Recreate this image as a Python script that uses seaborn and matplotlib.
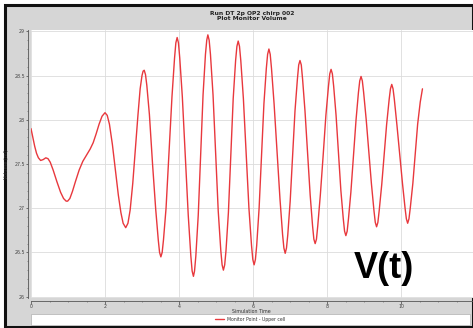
import matplotlib
matplotlib.use("Agg")
import matplotlib.pyplot as plt
import matplotlib.patches as mpatches
from matplotlib.ticker import MultipleLocator
import seaborn as sns
import pandas as pd

# ---- data ----
time = [0.00, 0.05, 0.10, 0.15, 0.20, 0.26, 0.33, 0.40, 0.46, 0.52, 0.60, 0.70,
        0.80, 0.88, 0.95, 0.99, 1.05, 1.12, 1.20, 1.30, 1.40, 1.50, 1.60, 1.68,
        1.76, 1.84, 1.92, 2.00, 2.06, 2.12, 2.20, 2.28, 2.36, 2.43, 2.49, 2.56,
        2.62, 2.68, 2.75, 2.82, 2.89, 2.95, 3.00, 3.03, 3.06,
        3.095, 3.13, 3.20, 3.285, 3.37, 3.44, 3.475, 3.51,
        3.545, 3.58, 3.65, 3.73, 3.81, 3.88, 3.915, 3.95,
        3.985, 4.02, 4.09, 4.17, 4.25, 4.32, 4.355, 4.39,
        4.42, 4.455, 4.52, 4.585, 4.65, 4.715, 4.75, 4.78,
        4.815, 4.85, 4.92, 4.99, 5.06, 5.13, 5.165, 5.20,
        5.235, 5.27, 5.335, 5.40, 5.465, 5.53, 5.565, 5.60,
        5.635, 5.67, 5.74, 5.815, 5.89, 5.96, 5.995, 6.03,
        6.065, 6.10, 6.165, 6.23, 6.295, 6.36, 6.395, 6.43,
        6.465, 6.50, 6.57, 6.65, 6.73, 6.80, 6.835, 6.87,
        6.905, 6.94, 7.005, 7.07, 7.135, 7.20, 7.235, 7.27,
        7.305, 7.34, 7.405, 7.475, 7.545, 7.61, 7.645, 7.68,
        7.715, 7.75, 7.82, 7.895, 7.97, 8.04, 8.075, 8.11,
        8.145, 8.18, 8.245, 8.31, 8.375, 8.44, 8.475, 8.51,
        8.545, 8.58, 8.645, 8.715, 8.785, 8.85, 8.885, 8.92,
        8.955, 8.99, 9.06, 9.13, 9.20, 9.27, 9.305, 9.34,
        9.375, 9.41, 9.48, 9.545, 9.61, 9.68, 9.715, 9.75,
        9.785, 9.82, 9.89, 9.965, 10.04, 10.11, 10.145, 10.18,
        10.215, 10.25, 10.32, 10.38, 10.45, 10.52, 10.58]
volume = [27.90, 27.80, 27.70, 27.62, 27.57, 27.54, 27.55, 27.57, 27.56, 27.52, 27.43, 27.30,
          27.18, 27.11, 27.08, 27.08, 27.11, 27.19, 27.30, 27.43, 27.53, 27.60, 27.67, 27.74,
          27.84, 27.95, 28.04, 28.08, 28.05, 27.95, 27.72, 27.43, 27.15, 26.95, 26.83, 26.78,
          26.83, 26.98, 27.28, 27.67, 28.05, 28.35, 28.50, 28.55, 28.56,
          28.51, 28.39, 28.06, 27.50, 26.99, 26.64, 26.50, 26.45,
          26.50, 26.64, 27.00, 27.62, 28.26, 28.70, 28.87, 28.93,
          28.87, 28.70, 28.26, 27.58, 26.92, 26.46, 26.29, 26.23,
          26.29, 26.46, 26.92, 27.60, 28.28, 28.74, 28.90, 28.96,
          28.90, 28.74, 28.28, 27.63, 26.97, 26.52, 26.36, 26.30,
          26.36, 26.52, 26.95, 27.60, 28.24, 28.67, 28.83, 28.89,
          28.83, 28.67, 28.24, 27.62, 27.00, 26.58, 26.42, 26.36,
          26.42, 26.58, 27.00, 27.58, 28.18, 28.58, 28.74, 28.80,
          28.74, 28.58, 28.18, 27.64, 27.10, 26.70, 26.55, 26.49,
          26.55, 26.70, 27.08, 27.58, 28.10, 28.46, 28.62, 28.67,
          28.62, 28.46, 28.10, 27.63, 27.15, 26.80, 26.65, 26.60,
          26.65, 26.80, 27.15, 27.59, 28.05, 28.38, 28.52, 28.57,
          28.52, 28.38, 28.05, 27.63, 27.20, 26.88, 26.74, 26.69,
          26.74, 26.88, 27.18, 27.59, 28.00, 28.31, 28.44, 28.49,
          28.44, 28.31, 28.00, 27.64, 27.28, 26.97, 26.84, 26.79,
          26.84, 26.97, 27.27, 27.60, 27.94, 28.23, 28.35, 28.40,
          28.35, 28.23, 27.94, 27.61, 27.28, 27.00, 26.88, 26.83,
          26.88, 27.00, 27.28, 27.59, 27.95, 28.20, 28.35]
x_ticks = [0, 2, 4, 6, 8, 10]
y_ticks = [26, 26.5, 27, 27.5, 28, 28.5, 29]
title = "Run DT 2p OP2 chirp 002\nPlot Monitor Volume"
x_label = "Simulation Time"
y_label = "Volume (ml)"
series_name = "Monitor Point - Upper cell"
annotation = "V(t)"

df = pd.DataFrame({"t": time, "v": volume})

sns.set_style("whitegrid")
plt.rcParams["font.family"] = ["DejaVu Sans"]

W, H = 473, 328
fig = plt.figure(figsize=(W / 100, H / 100), dpi=100)
fig.patch.set_facecolor("white")

# gray chart panel with dark border
panel = mpatches.Rectangle((5 / W, 1 / H), 1 - 5 / W, 1 - 6 / H, transform=fig.transFigure,
                           facecolor="#d6d6d6", edgecolor="#111111", linewidth=2.2, zorder=-10)
fig.patches.append(panel)
# white legend strip
legbox = mpatches.Rectangle((31 / W, 3 / H), 1 - 31 / W - 3 / W, 11 / H, transform=fig.transFigure,
                            facecolor="white", edgecolor="#b0b0b0", linewidth=0.5, zorder=-5)
fig.patches.append(legbox)

left, right = 31 / W, 1.0
bottom, top = 1 - 298 / H, 1 - 30 / H
ax = fig.add_axes([left, bottom, right - left, top - bottom])
ax.set_facecolor("white")

sns.lineplot(data=df, x="t", y="v", ax=ax, color="#e8383d", linewidth=1.0,
             sort=False, label=series_name, estimator=None)

ax.set_xlim(0, (W - 31) / 37.0)
ax.set_ylim(25.985, 29.015)
ax.set_xticks(x_ticks)
ax.set_yticks(y_ticks)
ax.set_xticklabels([str(v) for v in x_ticks])
ax.set_yticklabels([f"{v:g}" for v in y_ticks])
ax.xaxis.set_minor_locator(MultipleLocator(0.5))
ax.yaxis.set_minor_locator(MultipleLocator(0.1))
ax.grid(True, which="major", color="#dcdcdc", linewidth=0.6)
ax.grid(False, which="minor")

for s in ["top", "right"]:
    ax.spines[s].set_visible(False)
for s in ["left", "bottom"]:
    ax.spines[s].set_position(("outward", 2))
    ax.spines[s].set_color("#555555")
    ax.spines[s].set_linewidth(0.6)

ax.tick_params(axis="both", which="major", labelsize=3.4, length=1.8, width=0.5,
               colors="#444444", pad=0.6, left=True, bottom=True)
ax.tick_params(axis="both", which="minor", length=1.0, width=0.4, colors="#555555",
               left=True, bottom=True)

ax.set_xlabel("")
ax.set_ylabel(y_label, fontsize=3.5, color="#333333", labelpad=4)
fig.text(251 / W, 1 - 311.5 / H, x_label, ha="center", va="center",
         fontsize=3.4, color="#333333")

fig.text((31 + W) / 2 / W, 1 - 16 / H, title, ha="center", va="center",
         fontsize=4.3, fontweight="bold", color="#222222", linespacing=1.1)

ax.legend_.remove()
handles, labels = ax.get_legend_handles_labels()
leg = fig.legend(handles, labels, loc="center",
                 bbox_to_anchor=(250 / W, 1 - 319.5 / H),
                 fontsize=3.3, frameon=False, handlelength=2.0,
                 borderpad=0.1, handletextpad=0.6)
for t in leg.get_texts():
    t.set_color("#333333")

fig.text(384 / W, 1 - 268 / H, annotation, fontsize=26, fontweight="bold",
         family=["Liberation Sans", "DejaVu Sans"], ha="center", va="center", color="black")

fig.savefig("out.png", dpi=100)
